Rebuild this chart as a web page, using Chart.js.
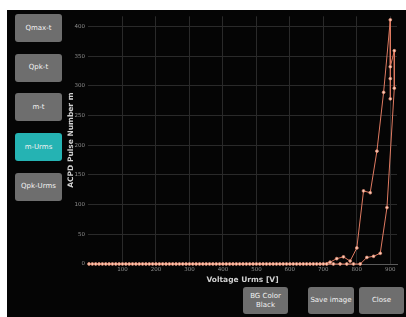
<!DOCTYPE html>
<html lang="en">
  <head>
    <meta charset="UTF-8" />
    <script src="https://cdn.jsdelivr.net/npm/chart.js@4"></script>
    <title>m-Urms</title>
    <style>
      body { margin: 0; background: #fff; width: 406px; height: 317px; overflow: hidden; font-family: "DejaVu Sans", sans-serif; }
      #panel { position: absolute; left: 7px; top: 10px; right: 0; bottom: 0; background: #050505; }
      .btn { position: absolute; background: #6e6e6e; color: #f2f2f2; border-radius: 3px; font-size: 7px;
             display: flex; align-items: center; justify-content: center; text-align: center; line-height: 9px; }
      .btn.on { background: #25b3b3; }
      #wrap { position: absolute; left: 60px; top: 10px; width: 346px; height: 275px; }
    </style>
  </head>
  <script>
    // up ramp
    const voltUp = [0, 20, 40, 60, 80, 100, 120, 140, 160, 180, 200, 220, 240, 260, 280, 300, 320, 340, 360, 380,
      400, 420, 440, 460, 480, 500, 520, 540, 560, 580, 600, 620, 640, 660, 680, 700, 720, 740, 760, 780,
      800, 820, 840, 860, 880, 900];
    const countUp = [0, 0, 0, 0, 0, 0, 0, 0, 0, 0, 0, 0, 0, 0, 0, 0, 0, 0, 0, 0,
      0, 0, 0, 0, 0, 0, 0, 0, 0, 0, 0, 0, 0, 0, 0, 0, 3, 9, 12, 5,
      27, 123, 120, 190, 289, 411];
    // held at the top
    const voltTop = [900, 900, 900, 912, 912];
    const countTop = [278, 312, 332, 359, 296];
    // down ramp
    const voltDown = [890, 870, 850, 830, 810, 790, 770, 750, 730, 710, 690, 670, 650, 630, 610, 590, 570, 550,
      530, 510, 490, 470, 450, 430, 410, 390, 370, 350, 330, 310, 290, 270, 250, 230, 210, 190, 170, 150,
      130, 110, 90, 70, 50, 30, 10];
    const countDown = [95, 18, 13, 11, 0, 0, 0, 0, 0, 0, 0, 0, 0, 0, 0, 0, 0, 0,
      0, 0, 0, 0, 0, 0, 0, 0, 0, 0, 0, 0, 0, 0, 0, 0, 0, 0, 0, 0,
      0, 0, 0, 0, 0, 0, 0];
    const xTicks = [100, 200, 300, 400, 500, 600, 700, 800, 900];
    const yTicks = [0, 50, 100, 150, 200, 250, 300, 350, 400];

    const buttons = ["Qmax-t", "Qpk-t", "m-t", "m-Urms", "Qpk-Urms"];

    function draw() {
      const volts = voltUp.concat(voltTop, voltDown);
      const counts = countUp.concat(countTop, countDown);
      const pts = volts.map((v, i) => ({ x: v, y: counts[i] }));

      const tickFont = { family: "DejaVu Sans", size: 5.5 };
      const titleFont = { family: "DejaVu Sans", size: 7.5, weight: "bold" };

      new Chart(document.getElementById("myChart"), {
        type: "scatter",
        data: {
          datasets: [{
            data: pts,
            showLine: true,
            borderColor: "#e07b62",
            borderWidth: 1,
            pointRadius: 1.4,
            pointBorderWidth: 0.8,
            pointBorderColor: "#e58a70",
            pointBackgroundColor: "#f8d2c0",
            clip: false,
          }],
        },
        options: {
          responsive: false,
          animation: false,
          layout: { padding: { top: 5, right: 9, left: 0, bottom: 0 } },
          plugins: { legend: { display: false }, tooltip: { enabled: false } },
          scales: {
            x: {
              type: "linear",
              min: -3,
              max: 920,
              afterBuildTicks: (s) => { s.ticks = xTicks.map((v) => ({ value: v })); },
              afterFit: (s) => { s.height = 21; },
              grid: { color: "#2a2a2a", drawTicks: false },
              border: { display: true, color: "#5a5a5a" },
              ticks: { color: "#8c8c8c", font: tickFont, padding: 2, maxRotation: 0 },
              title: { display: true, text: "Voltage Urms [V]", color: "#d0d0d0", font: titleFont, padding: 0 },
            },
            y: {
              min: 0,
              max: 417,
              afterBuildTicks: (s) => { s.ticks = yTicks.map((v) => ({ value: v })); },
              afterFit: (s) => { s.width = 28; },
              grid: { color: "#2a2a2a", drawTicks: false },
              border: { display: false },
              ticks: { color: "#8c8c8c", font: tickFont, padding: 3 },
              title: { display: true, text: "ACPD Pulse Number m", color: "#d0d0d0", font: titleFont, padding: { top: 7, bottom: 0 } },
            },
          },
        },
      });

      const panel = document.getElementById("panel");
      buttons.forEach((b, i) => {
        const d = document.createElement("div");
        d.className = "btn" + (b === "m-Urms" ? " on" : "");
        d.textContent = b;
        d.style.left = "8px";
        d.style.top = (4 + i * 39.7) + "px";
        d.style.width = "47px";
        d.style.height = "28px";
        panel.appendChild(d);
      });
    }
  </script>
  <body onload="draw()">
    <div id="panel">
      <div class="btn" style="left:236px;top:277px;width:45px;height:27px;">BG Color<br />Black</div>
      <div class="btn" style="left:301px;top:277px;width:46px;height:27px;">Save image</div>
      <div class="btn" style="left:352px;top:277px;width:45px;height:27px;">Close</div>
    </div>
    <div id="wrap"><canvas id="myChart" width="346" height="275"></canvas></div>
  </body>
</html>
